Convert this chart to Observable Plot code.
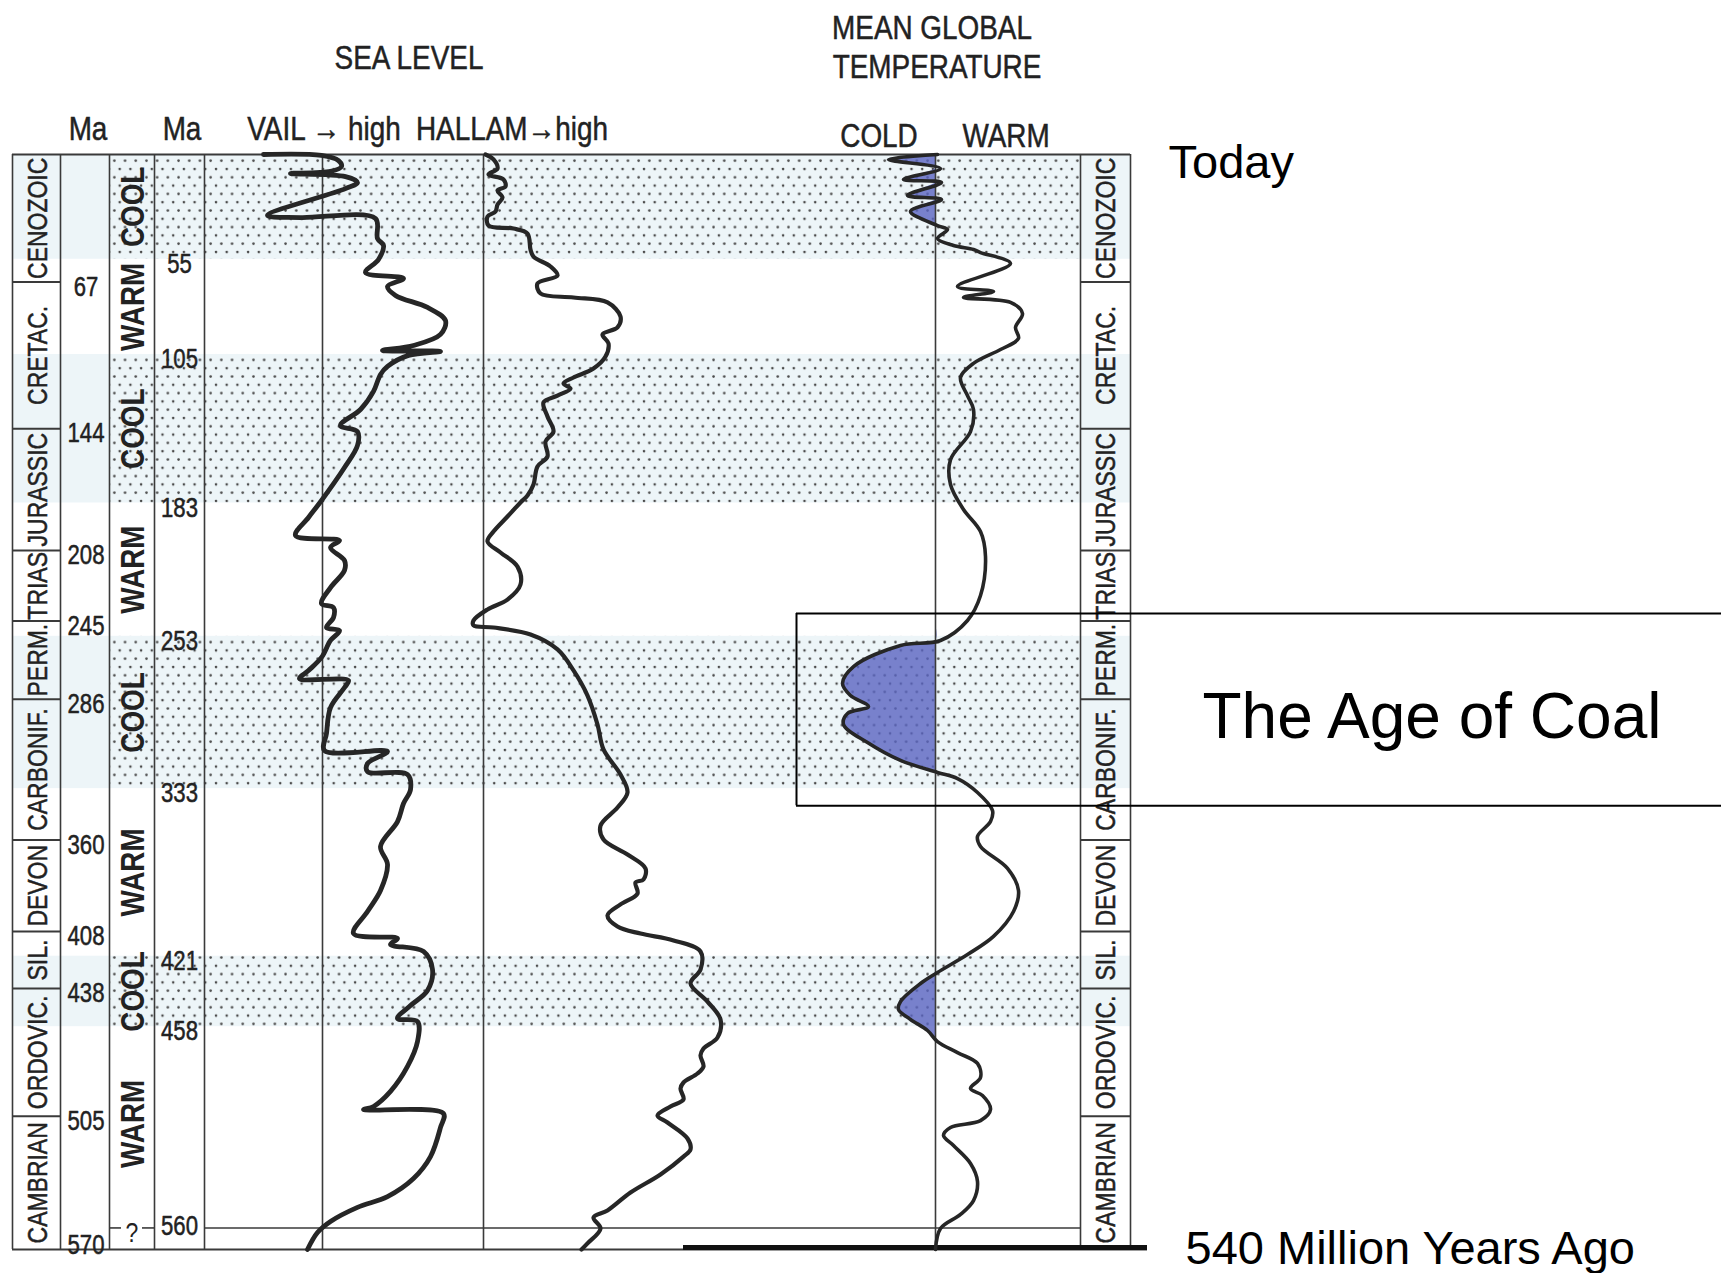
<!DOCTYPE html>
<html>
<head>
<meta charset="utf-8">
<script src="https://cdn.jsdelivr.net/npm/d3@7"></script>
<script src="https://cdn.jsdelivr.net/npm/@observablehq/plot@0.6"></script>
<style>
  html, body { margin: 0; padding: 0; background: #fff; }
  #figure { position: relative; width: 1721px; height: 1273px; overflow: hidden; background: #fff; }
  #figure svg { position: absolute; left: 0; top: 0; }
  .head { position: absolute; transform: translateX(-50%) scaleX(0.82); white-space: nowrap; line-height: 1;
          font-family: "Liberation Sans Narrow", "Arial Narrow", "Liberation Sans", sans-serif; font-size: 34px;
          color: #222; -webkit-text-stroke: 0.5px #222; }
</style>
</head>
<body>
<div id="figure"></div>
<script>
// ---- Geologic time scale (Ma) ----
const periods = ["CENOZOIC", "CRETAC.", "JURASSIC", "TRIAS", "PERM.", "CARBONIF.", "DEVON", "SIL.", "ORDOVIC.", "CAMBRIAN"];
const periodBase = [67, 144, 208, 245, 286, 360, 408, 438, 505, 575];
const periodTicks = [67, 144, 208, 245, 286, 360, 408, 438, 505, 570];

// ---- Climate modes and their boundaries (Ma) ----
const climateModes = ["COOL", "WARM", "COOL", "WARM", "COOL", "WARM", "COOL", "WARM"];
const climateBreaks = [55, 105, 183, 253, 333, 421, 458, 560];
const coolBands = [[0, 55], [105, 183], [253, 333], [421, 458]];
const coalAge = [241, 342];

// ---- Sea level, Vail curve: [Ma, relative level] ----
const vail = [[0,-29.5],[0.5,-0.5],[3.2,8],[6.3,9.5],[8.9,4],[10,-16],[11.6,11.5],[14.7,17.5],[17.9,11.5],[32,-27.5],[33.1,-11],[33.6,26.5],[44.1,27.5],[47.8,30.5],[55.1,28],[62,21.5],[65.1,40.5],[69.3,32.5],[74,36.5],[80.3,52.5],[87.2,61.5],[94.5,59],[100.3,45.5],[102.9,30],[103.4,59],[105.5,43],[111.3,32.5],[115.5,29],[124.4,25.5],[133.9,19],[142.3,9],[145.5,17.5],[152.8,17.5],[164.4,11],[181.7,-0.5],[190.6,-7],[200.1,-13.5],[202.7,8.5],[206.4,4],[213.2,11],[218.4,11],[227.4,4],[235.8,-0.5],[237.9,5.5],[243.1,5.5],[248.4,2],[250,8.5],[255.2,4],[264.1,-0.5],[271,-7],[275.2,-11.5],[276.2,13],[279.9,11],[290.4,4],[304,2],[313,1],[313.5,32.5],[319.8,22.5],[324,22.5],[325.6,42.5],[333.5,44],[340.8,40.5],[350.3,37.5],[363.4,29],[372.8,32.5],[386.5,29],[397.5,22.5],[409.1,15.5],[411.7,37.5],[414.8,34],[418.5,50.5],[428,55],[439,52.5],[446.9,44],[453.7,37.5],[455.3,47.5],[465.8,47.5],[478.9,42.5],[492,34],[499.9,25.5],[501.5,20.5],[503.6,60.5],[510.9,59],[526.2,54],[537.7,45.5],[547.2,32.5],[552.9,17.5],[560.3,4],[566.1,-2.5],[575,-7.5]];

// ---- Sea level, Hallam curve: [Ma, relative level] ----
const hallam = [[0,1],[2.6,5],[7.4,7],[10.5,2.5],[13.1,10],[16.8,11],[18.9,7],[22.6,9.5],[26.3,7],[29.9,6],[32.6,2],[37.3,2.5],[38.9,15],[41.5,22],[49.9,23.5],[53.6,25],[58.8,33.5],[63.5,37],[67.7,27],[73,28.5],[75.1,45],[77.7,62],[85.1,68.5],[90.8,67],[94.5,59.5],[99.2,62.5],[106.1,61],[112.4,55],[117.1,45],[120.3,40],[122.9,43.5],[126.6,37],[130.2,30],[137.6,32],[145.5,35],[150.7,31],[158.6,32],[163.8,27],[173.3,25],[179.1,22],[182.7,18.5],[190.1,12],[198,5],[203.2,2],[209,8.5],[216.4,17],[225.8,18.5],[233.7,12],[238.9,2],[244.7,-5],[247.3,-5],[248.4,5],[252.1,23.5],[259.9,37],[270.9,45],[284.1,52],[299.3,57],[312.4,60],[325.6,68.5],[335,72],[342.9,67],[352.4,58.5],[359.7,60],[367.6,72],[374.9,81],[380.7,80],[382.3,76],[388.1,77],[393.8,68.5],[399.6,62],[405.4,67],[409.1,78.5],[412.7,95],[418.5,108.5],[428,108.5],[435.3,103.5],[444.8,112],[454.2,118.5],[463.7,117],[469.5,110],[473.1,108.5],[478.9,110],[482.6,107],[487.3,100],[490.5,98.5],[496.2,100],[499.9,93.5],[504.6,87],[508.3,92],[516.7,102],[522.5,103.5],[526.2,100],[535.6,88.5],[545.1,73.5],[554.5,62],[558.2,55],[564,58.5],[571.8,52],[575,49]];

// ---- Mean global temperature: [Ma, relative (negative = cold)] ----
const temperature = [[0,1],[2.6,-23.5],[7.4,2.5],[13.1,-16],[14.7,3],[21.5,-14],[23.6,3],[29.9,-12.5],[37.3,1],[39.4,6],[44.1,1],[47.8,9],[49.9,19],[51.5,22.5],[57.2,37.5],[69.3,11],[71.9,29],[75.1,14],[77.7,37.5],[83.5,43.5],[90.8,40],[96.6,41.5],[102.4,32.5],[109.7,19],[117.1,12.5],[126.6,16],[133.9,19],[145.5,17.5],[160.2,7.5],[173.3,7.5],[186.4,14],[198,22.5],[211.1,25],[231.6,22.5],[244.7,16],[255.2,2.5],[257.8,-17.5],[268.9,-41],[277.8,-46.5],[284.1,-42.5],[289.9,-33.5],[293.5,-44],[299.3,-46],[308.8,-34],[318.2,-17.5],[324.5,1],[327.7,11],[335,21],[344.5,28.5],[350.3,27.5],[358.1,21],[363.4,22.5],[374.9,36],[386.5,41.5],[397.5,39],[410.6,29],[420.1,16],[429.5,1],[435.3,-7.5],[444.8,-17.5],[449,-18.5],[454.2,-12.5],[460,-4],[465.8,1],[471.6,11],[477.3,21],[484.7,22.5],[490.5,17.5],[494.1,23.5],[501.5,27.5],[507.3,22.5],[510.9,7.5],[515.1,4],[520.4,9],[529.8,17.5],[539.3,21],[549.3,19],[556.6,12.5],[564,2.5],[575,0]];

// ---- Layout (figure pixels) ----
const W = 1721, H = 1273;
const col = {
  frameLeft: 12, periodRight: 60, ma1Right: 109, climateRight: 154, ma2Right: 204,
  vail: 322, hallam: 483, temp: 935, rightLeft: 1080, frameRight: 1130,
  bottomRight: 1147, heavyLeft: 683, coalLeft: 796
};
const unitPx = 2;          // curve units -> figure pixels
const maMax = 575;
const condensed = 0.82;    // horizontal squeeze for the condensed lettering
const narrow = "'Liberation Sans Narrow', 'Arial Narrow', 'Liberation Sans', sans-serif";
const sans = "'Liberation Sans', Arial, sans-serif";
const ink = "#222";
const rule = "#3a3a3a";
const inkStroke = {stroke: ink, strokeWidth: 0.5};

const mid = (a, b) => (a + b) / 2;
const periodRows = periods.map((name, i) => ({name, top: i ? periodBase[i - 1] : 0, base: periodBase[i]}));
const climateRows = climateModes.map((mode, i) => ({mode, top: i ? climateBreaks[i - 1] : 0, base: climateBreaks[i]}));
const notes = [
  {text: "Today", ma: 0, x: 1168, size: 47, dy: 8},
  {text: "The Age of Coal", ma: mid(coalAge[0], coalAge[1]), x: 1202, size: 64, dy: 8},
  {text: "540 Million Years Ago", ma: maMax, x: 1185, size: 47, dy: -1}
];
const lastBreak = climateBreaks[climateBreaks.length - 1];

const chart = Plot.plot({
  width: W,
  height: H,
  x: {domain: [0, W], range: [0, W], axis: null},
  y: {domain: [0, maMax], range: [154, 1249], axis: null},
  style: {background: "transparent", fontFamily: narrow, color: ink, overflow: "visible"},
  marks: [
    // cool climate bands: tint + stipple
    Plot.rect(coolBands, {x1: col.frameLeft, x2: col.frameRight, y1: d => d[0], y2: d => d[1], fill: "#edf5f8"}),
    Plot.rect(coolBands, {x1: col.ma1Right, x2: col.rightLeft, y1: d => d[0], y2: d => d[1], fill: "url(#stipple)"}),

    // cold excursions of mean global temperature
    Plot.areaX(temperature, {
      y: d => d[0], x1: col.temp, x2: d => col.temp + Math.min(d[1], 0) * unitPx,
      curve: "catmull-rom", fill: "#5a64c0", fillOpacity: 0.8
    }),

    // column rules and frame
    Plot.ruleX([col.frameLeft, col.periodRight, col.ma1Right, col.climateRight, col.ma2Right,
                col.vail, col.hallam, col.temp, col.rightLeft, col.frameRight],
               {y1: 0, y2: maMax, stroke: rule, strokeWidth: 1.6}),
    Plot.ruleY([0], {x1: col.frameLeft, x2: col.frameRight, stroke: rule, strokeWidth: 2}),
    Plot.ruleY([maMax], {x1: col.frameLeft, x2: col.bottomRight, stroke: rule, strokeWidth: 2}),
    Plot.ruleY([maMax], {x1: col.heavyLeft, x2: col.bottomRight, stroke: "#111", strokeWidth: 5, dy: -2}),
    Plot.ruleY(periodBase.slice(0, -1), {x1: col.frameLeft, x2: col.periodRight, stroke: rule, strokeWidth: 2}),
    Plot.ruleY(periodBase.slice(0, -1), {x1: col.rightLeft, x2: col.frameRight, stroke: rule, strokeWidth: 2}),
    Plot.ruleY([lastBreak], {x1: col.ma2Right, x2: col.rightLeft, stroke: rule, strokeWidth: 1.6, dy: 7}),
    Plot.ruleY([lastBreak], {x1: col.ma1Right, x2: col.ma1Right + 12, stroke: rule, strokeWidth: 1.6, dy: 7}),
    Plot.ruleY([lastBreak], {x1: col.climateRight - 12, x2: col.climateRight, stroke: rule, strokeWidth: 1.6, dy: 7}),

    // period names, both sides
    Plot.text(periodRows, {x: mid(col.frameLeft, col.periodRight) + 2, y: d => mid(d.top, d.base), text: "name",
      rotate: -90, fontSize: 28, fill: ink, ...inkStroke}),
    Plot.text(periodRows, {x: mid(col.rightLeft, col.frameRight) + 1, y: d => mid(d.top, d.base), text: "name",
      rotate: -90, fontSize: 28, fill: ink, ...inkStroke}),

    // Ma labels
    Plot.text(periodTicks, {x: mid(col.periodRight, col.ma1Right) + 1, y: d => d, text: d => String(d), dy: 5,
      fontSize: 27, fill: ink, ...inkStroke}),
    Plot.text(climateBreaks, {x: mid(col.climateRight, col.ma2Right), y: d => d, text: d => String(d), dy: 5,
      fontSize: 27, fill: ink, ...inkStroke}),

    // climate modes
    Plot.text(climateRows, {x: mid(col.ma1Right, col.climateRight) + 1, y: d => mid(d.top, d.base), text: "mode",
      rotate: -90, fontSize: 34, fontWeight: "bold", fill: ink}),
    Plot.text(["?"], {x: mid(col.ma1Right, col.climateRight), y: lastBreak, dy: 12, fontSize: 28, fill: ink}),

    // curves
    Plot.line(vail, {x: d => col.vail + d[1] * unitPx, y: d => d[0], curve: "catmull-rom",
      stroke: "#262626", strokeWidth: 4.8, strokeLinejoin: "round", strokeLinecap: "round"}),
    Plot.line(hallam, {x: d => col.hallam + d[1] * unitPx, y: d => d[0], curve: "catmull-rom",
      stroke: "#262626", strokeWidth: 4.2, strokeLinejoin: "round", strokeLinecap: "round"}),
    Plot.line(temperature, {x: d => col.temp + d[1] * unitPx, y: d => d[0], curve: "catmull-rom",
      stroke: "#262626", strokeWidth: 3.6, strokeLinejoin: "round", strokeLinecap: "round"}),

    // the age of coal
    Plot.ruleY(coalAge, {x1: col.coalLeft, x2: W, stroke: "#000", strokeWidth: 2}),
    Plot.ruleX([col.coalLeft], {y1: coalAge[0], y2: coalAge[1], stroke: "#000", strokeWidth: 2}),

    // annotations
    ...notes.map(n => Plot.text([n], {x: "x", y: "ma", text: "text", textAnchor: "start",
      fontSize: n.size, fontFamily: sans, fill: "#000", dy: n.dy}))
  ]
});

// stipple pattern for the cool bands
const defs = d3.select(chart).insert("defs", ":first-child");
const pat = defs.append("pattern").attr("id", "stipple").attr("patternUnits", "userSpaceOnUse")
  .attr("width", 10.7).attr("height", 16.6);
pat.append("circle").attr("cx", 2).attr("cy", 3).attr("r", 1.3).attr("fill", "#4a4a4a");
pat.append("circle").attr("cx", 7.35).attr("cy", 11.3).attr("r", 1.3).attr("fill", "#4a4a4a");

const fig = document.getElementById("figure");
fig.appendChild(chart);

// condensed lettering for the table labels (annotations keep their own font)
d3.select(chart).selectAll("g[aria-label=text]").each(function () {
  if (this.getAttribute("font-family")) return;
  d3.select(this).selectAll("text").each(function () {
    const len = this.getComputedTextLength();
    if (len > 0) {
      this.setAttribute("textLength", (len * condensed).toFixed(1));
      this.setAttribute("lengthAdjust", "spacingAndGlyphs");
    }
  });
});

// column headings
const headings = [
  {text: "SEA LEVEL", x: 409, baseline: 69},
  {text: "MEAN GLOBAL", x: 932, baseline: 39},
  {text: "TEMPERATURE", x: 937, baseline: 78},
  {text: "Ma", x: 88, baseline: 140},
  {text: "Ma", x: 182, baseline: 140},
  {text: "VAIL \u2192 high", x: 324, baseline: 140},
  {text: "HALLAM\u2192high", x: 512, baseline: 140},
  {text: "COLD", x: 879, baseline: 147},
  {text: "WARM", x: 1006, baseline: 147}
];
for (const h of headings) {
  const el = document.createElement("div");
  el.className = "head";
  el.textContent = h.text;
  el.style.left = h.x + "px";
  el.style.top = (h.baseline - 0.8465 * 34) + "px";
  fig.appendChild(el);
}
</script>
</body>
</html>
